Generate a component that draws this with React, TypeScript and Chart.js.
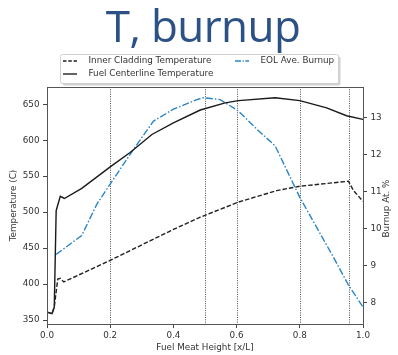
import React, { useEffect, useRef } from 'react';
import { Chart, registerables } from 'chart.js';

Chart.register(...registerables);

const titleText = 'T, burnup';

const fuelX = [0, 0.016, 0.023, 0.029, 0.042, 0.055, 0.11, 0.2, 0.263, 0.332, 0.4, 0.485, 0.564, 0.606, 0.722, 0.8, 0.885, 0.948, 1.0];
const fuelT = [361, 359, 368, 502, 522, 519, 533, 563, 583, 608, 624, 642, 652, 655, 659, 655, 645, 634, 629];

const cladX = [0, 0.016, 0.023, 0.034, 0.042, 0.053, 0.2, 0.4, 0.485, 0.606, 0.727, 0.8, 0.954, 0.97, 1.0];
const cladT = [361, 359, 368, 407, 408, 403, 433, 476, 493, 514, 530, 536, 543, 530, 515];

const burnX = [0.029, 0.11, 0.158, 0.2, 0.274, 0.337, 0.4, 0.474, 0.495, 0.548, 0.606, 0.664, 0.722, 0.8, 0.906, 0.954, 1.0];
const burnB = [9.31, 9.82, 10.67, 11.21, 12.15, 12.91, 13.23, 13.49, 13.54, 13.49, 13.18, 12.69, 12.24, 10.85, 9.24, 8.48, 7.89];

const markerX = [0.2, 0.5, 0.6, 0.8, 0.955];

const seriesLabels = ['Inner Cladding Temperature', 'Fuel Centerline Temperature', 'EOL Ave. Burnup'];
const rightAxisTitle = 'Burnup At. %';

const FONT = '"DejaVu Sans", sans-serif';
const BLUE = '#2a84c6';

const toPts = (xs: number[], ys: number[]) => xs.map((x, i) => ({ x, y: ys[i] }));

const decor = {
  id: 'decor',
  beforeDatasetsDraw(chart: any) {
    const { ctx, chartArea: a, scales } = chart;
    ctx.save();
    ctx.strokeStyle = '#222';
    ctx.lineWidth = 0.8;
    ctx.setLineDash([1, 1.3]);
    for (const v of markerX) {
      const x = Math.round(scales.x.getPixelForValue(v)) + 0.5;
      ctx.beginPath();
      ctx.moveTo(x, a.top);
      ctx.lineTo(x, a.bottom);
      ctx.stroke();
    }
    ctx.restore();
  },
  afterDraw(chart: any) {
    const { ctx, chartArea: a } = chart;
    ctx.save();
    // frame
    ctx.strokeStyle = '#555';
    ctx.lineWidth = 1;
    ctx.strokeRect(Math.round(a.left) + 0.5, Math.round(a.top) + 0.5, Math.round(a.right - a.left), Math.round(a.bottom - a.top));

    // right axis title (reads bottom to top)
    ctx.save();
    ctx.translate(387, (a.top + a.bottom) / 2 + 3);
    ctx.rotate(-Math.PI / 2);
    ctx.font = `8.8px ${FONT}`;
    ctx.fillStyle = '#333';
    ctx.textAlign = 'center';
    ctx.textBaseline = 'middle';
    ctx.fillText(rightAxisTitle, 0, 0);
    ctx.restore();

    // title
    ctx.fillStyle = '#2b5185';
    ctx.font = '44px "Open Sans", sans-serif';
    (ctx as any).letterSpacing = '-0.6px';
    ctx.textAlign = 'center';
    ctx.textBaseline = 'alphabetic';
    ctx.fillText(titleText, 203, 42);
    (ctx as any).letterSpacing = '0px';

    // legend box
    const bx = 60.5, by = 54.5, bw = 278, bh = 29;
    ctx.fillStyle = 'rgba(0,0,0,0.18)';
    ctx.beginPath();
    ctx.roundRect(bx + 2, by + 2, bw, bh, 2);
    ctx.fill();
    ctx.fillStyle = '#fff';
    ctx.strokeStyle = '#d0d0d0';
    ctx.beginPath();
    ctx.roundRect(bx, by, bw, bh, 2);
    ctx.fill();
    ctx.stroke();

    const items = [
      { x: 63, y: 61, color: '#222', dash: [3.5, 1.8], text: seriesLabels[0] },
      { x: 63, y: 74, color: '#222', dash: [], text: seriesLabels[1] },
      { x: 235, y: 61, color: BLUE, dash: [6, 1.6, 1.2, 1.6], text: seriesLabels[2] },
    ];
    ctx.font = `8.8px ${FONT}`;
    ctx.textAlign = 'left';
    ctx.textBaseline = 'middle';
    for (const it of items) {
      ctx.strokeStyle = it.color;
      ctx.lineWidth = 1.4;
      ctx.setLineDash(it.dash);
      ctx.beginPath();
      ctx.moveTo(it.x, it.y);
      ctx.lineTo(it.x + 14, it.y);
      ctx.stroke();
      ctx.setLineDash([]);
      ctx.fillStyle = '#333';
      ctx.fillText(it.text, it.x + 25.5, it.y);
    }
    ctx.restore();
  },
};

export default function App() {
  const ref = useRef<HTMLCanvasElement | null>(null);

  useEffect(() => {
    document.body.style.margin = '0';
    const canvas = ref.current;
    if (!canvas) return;
    const tickFont = { family: FONT, size: 8.8 };
    const titleFont = { family: FONT, size: 8.8 };
    const chart = new Chart(canvas, {
      type: 'line',
      data: {
        datasets: [
          {
            label: seriesLabels[0],
            data: toPts(cladX, cladT),
            borderColor: '#222',
            borderWidth: 1.4,
            borderDash: [4.5, 2],
            pointRadius: 0,
            yAxisID: 'y',
          },
          {
            label: seriesLabels[1],
            data: toPts(fuelX, fuelT),
            borderColor: '#1a1a1a',
            borderWidth: 1.4,
            pointRadius: 0,
            yAxisID: 'y',
          },
          {
            label: seriesLabels[2],
            data: toPts(burnX, burnB),
            borderColor: BLUE,
            borderWidth: 1.4,
            borderDash: [7, 2, 1.5, 2],
            pointRadius: 0,
            yAxisID: 'y1',
          },
        ],
      },
      options: {
        responsive: false,
        animation: false,
        devicePixelRatio: 1,
        layout: { padding: { top: 87, left: 0, right: 0, bottom: 0 } },
        plugins: { legend: { display: false }, title: { display: false }, tooltip: { enabled: false } },
        scales: {
          x: {
            type: 'linear',
            min: 0,
            max: 1,
            border: { display: false },
            grid: { drawOnChartArea: false, drawTicks: true, tickLength: 4, tickColor: '#444' },
            ticks: { stepSize: 0.2, font: tickFont, color: '#333', padding: 2, autoSkip: false, maxRotation: 0, callback: (v: any) => Number(v).toFixed(1) },
            title: { display: true, text: 'Fuel Meat Height [x/L]', font: titleFont, color: '#333', padding: { top: 0, bottom: 2 } },
            afterFit: (s: any) => { s.height = 31; },
          },
          y: {
            type: 'linear',
            position: 'left',
            min: 344.5,
            max: 674,
            border: { display: false },
            grid: { drawOnChartArea: false, drawTicks: true, tickLength: 4, tickColor: '#444' },
            ticks: { stepSize: 50, includeBounds: false, font: tickFont, color: '#333', padding: 3.5, autoSkip: false },
            title: { display: true, text: 'Temperature (C)', font: titleFont, color: '#333', padding: { top: 8.5, bottom: 0 } },
            afterFit: (s: any) => { s.width = 47; },
          },
          y1: {
            type: 'linear',
            position: 'right',
            min: 7.43,
            max: 13.83,
            border: { display: false },
            grid: { drawOnChartArea: false, drawTicks: true, tickLength: 4, tickColor: '#444' },
            ticks: { stepSize: 1, includeBounds: false, font: tickFont, color: '#333', padding: 3.5, autoSkip: false },
            title: { display: false },
            afterFit: (s: any) => { s.width = 35; },
          },
        },
      },
      plugins: [decor],
    });
    return () => chart.destroy();
  }, []);

  return (
    <div style={{ width: 398, height: 355, background: '#fff' }}>
      <canvas ref={ref} width={398} height={355} style={{ display: 'block', width: 398, height: 355 }} />
    </div>
  );
}
